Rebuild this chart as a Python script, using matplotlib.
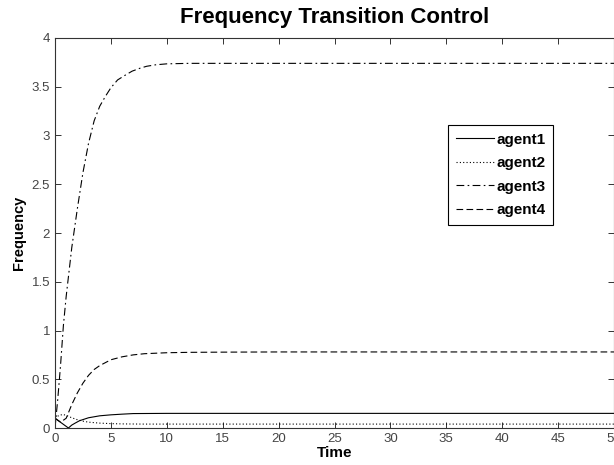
import matplotlib
matplotlib.use("Agg")
import matplotlib.pyplot as plt

# values
t1 = [0, 0.3, 0.6, 0.9, 1.2, 1.5, 1.8, 2.2, 2.6, 3.0, 3.5, 4.0, 5.0, 6.0, 7.0, 10, 20, 30, 40, 50]
agent1 = [0.10, 0.075, 0.05, 0.025, 0.0, 0.03, 0.05, 0.075, 0.09, 0.105, 0.115, 0.125, 0.135, 0.142, 0.148, 0.15, 0.15, 0.15, 0.15, 0.15]

t2 = [0, 0.3, 0.7, 1.1, 1.5, 2.0, 2.5, 3.0, 4.0, 5.0, 6.0, 8.0, 10, 20, 30, 40, 50]
agent2 = [0.10, 0.125, 0.14, 0.125, 0.105, 0.085, 0.07, 0.06, 0.05, 0.045, 0.042, 0.04, 0.04, 0.04, 0.04, 0.04, 0.04]

t3 = [0, 0.25, 0.5, 0.75, 1.0, 1.25, 1.5, 2.0, 2.5, 3.0, 3.5, 4.0, 4.5, 5.0, 5.6, 6.3, 6.9, 7.6, 8.2, 9.0, 10, 12, 15, 20, 30, 40, 50]
agent3 = [0.0, 0.3, 0.65, 1.05, 1.35, 1.6, 1.85, 2.25, 2.62, 2.92, 3.15, 3.30, 3.40, 3.49, 3.57, 3.62, 3.66, 3.69, 3.71, 3.725, 3.735, 3.74, 3.74, 3.74, 3.74, 3.74, 3.74]

t4 = [0, 0.5, 1.0, 1.5, 2.0, 2.5, 3.0, 3.5, 4.0, 5.0, 6.0, 7.0, 8.0, 10, 12, 15, 20, 30, 40, 50]
agent4 = [0.10, 0.06, 0.10, 0.24, 0.36, 0.46, 0.54, 0.60, 0.64, 0.70, 0.73, 0.75, 0.762, 0.772, 0.776, 0.778, 0.78, 0.78, 0.78, 0.78]

x_ticks = list(range(0, 51, 5))
y_ticks = [0, 0.5, 1, 1.5, 2, 2.5, 3, 3.5, 4]
y_labels = ["0", "0.5", "1", "1.5", "2", "2.5", "3", "3.5", "4"]

plt.rcParams['font.family'] = ['Liberation Sans', 'DejaVu Sans']

fig = plt.figure(figsize=(6.14, 4.65), dpi=100)
ax = fig.add_axes([55 / 614, 1 - 428 / 465, 1 - 55 / 614, (428 - 38) / 465])

ax.plot(t1, agent1, color='black', linewidth=0.8, linestyle='-', label='agent1')
ax.plot(t2, agent2, color='black', linewidth=0.8, linestyle=(0, (1, 2)), label='agent2')
ax.plot(t3, agent3, color='black', linewidth=0.8, linestyle=(0, (7, 3, 1.5, 3)), label='agent3')
ax.plot(t4, agent4, color='black', linewidth=0.8, linestyle=(0, (6, 3)), label='agent4')

ax.set_xlim(0, 50)
ax.set_ylim(0, 4)
ax.set_xticks(x_ticks)
ax.set_yticks(y_ticks)
ax.set_yticklabels(y_labels)
ax.tick_params(direction='in', top=True, right=True, length=4, width=0.7,
               labelsize=9.5, colors='#333333', labelcolor='#444444')
for s in ax.spines.values():
    s.set_linewidth(0.8)
    s.set_color('#333333')

ax.set_title("Frequency Transition Control", fontsize=16, fontweight='bold', pad=11)
ax.set_xlabel("Time", fontsize=11, fontweight='bold', labelpad=1)
ax.set_ylabel("Frequency", fontsize=10.5, fontweight='bold', labelpad=4)

leg = ax.legend(loc='upper left', bbox_to_anchor=(448 / 614, 1 - 125 / 465),
                bbox_transform=fig.transFigure, fancybox=False, framealpha=1,
                edgecolor='black', prop={'weight': 'bold', 'size': 11},
                handlelength=2.5, handletextpad=0.15, labelspacing=0.62,
                borderaxespad=0, borderpad=0.5)
leg.get_frame().set_linewidth(0.8)

fig.savefig("out.png", dpi=100)
